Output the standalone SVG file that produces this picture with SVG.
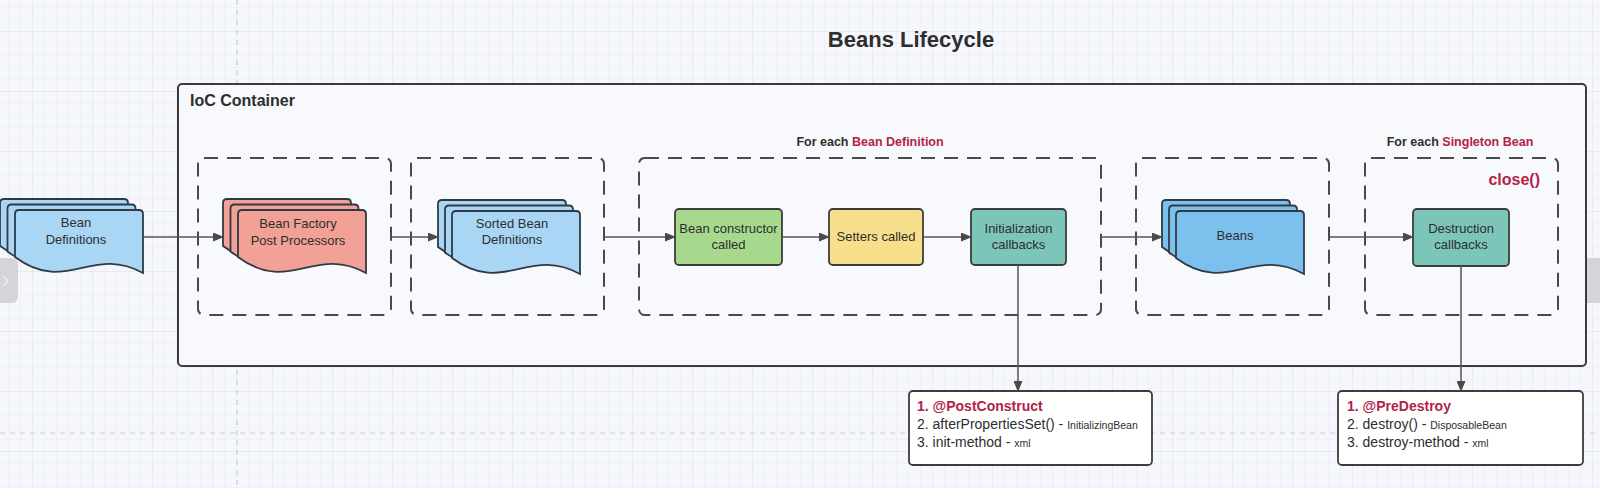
<svg xmlns="http://www.w3.org/2000/svg" width="1600" height="488" viewBox="0 0 1600 488">
  <defs>
    <pattern id="minor" width="12" height="12" patternUnits="userSpaceOnUse" x="9" y="8">
      <path d="M12 0V12M0 12H12" fill="none" stroke="#e9ebf4" stroke-width="1"/>
    </pattern>
    <pattern id="major" width="60" height="60" patternUnits="userSpaceOnUse" x="33" y="32">
      <path d="M60 0V60M0 60H60" fill="none" stroke="#dfe1ee" stroke-width="1"/>
    </pattern>
    <marker id="arrow" markerWidth="11" markerHeight="9" refX="10" refY="4.5" orient="auto" markerUnits="userSpaceOnUse">
      <path d="M0,0 L11,4.5 L0,9 z" fill="#4a4a4a"/>
    </marker>
    <style>
      .txt { font-family: "Liberation Sans", Arial, sans-serif; fill: #2e2e2e; }
      .node { font-size: 13px; text-anchor: middle; }
      .box { stroke: #3c3c3c; stroke-width: 1.8; }
      .doc { stroke: #2f3a45; stroke-width: 1.8; }
      .group { fill: none; stroke: #4a4a4a; stroke-width: 2; stroke-dasharray: 14 9; }
      .conn { fill: none; stroke: #555; stroke-width: 1.5; marker-end: url(#arrow); }
      .red { fill: #b22347; }
      .page { stroke: #c9cbd6; stroke-width: 1.2; stroke-dasharray: 5 5; fill: none; }
    </style>
  </defs>

  <!-- background canvas -->
  <rect width="1600" height="488" fill="#f6f7fc"/>
  <rect width="1600" height="488" fill="url(#minor)"/>
  <rect width="1600" height="488" fill="url(#major)"/>
  <path class="page" d="M237 0V488M0 433H1600"/>
  <rect x="-10" y="258" width="28" height="45" rx="6" fill="#d4d5da"/>
  <path d="M3 276 L8 281 L3 286" fill="none" stroke="#eeeeee" stroke-width="1.5"/>
  <rect x="1565" y="258" width="45" height="45" rx="6" fill="#d4d5da"/>
  <path d="M1578 276 L1573 281 L1578 286" fill="none" stroke="#eeeeee" stroke-width="1.5"/>

  <text class="txt" x="911" y="47" font-size="22" font-weight="bold" text-anchor="middle">Beans Lifecycle</text>

  <!-- IoC container -->
  <g id="ioc-container">
    <rect x="178" y="84" width="1408" height="282" rx="4" fill="#f8f9fc" stroke="#3c3c3c" stroke-width="2"/>
    <text class="txt" x="190" y="106" font-size="16" font-weight="bold">IoC Container</text>
  </g>

  <!-- dashed groups -->
  <g id="group-bfpp"><rect class="group" x="198" y="158" width="193" height="157" rx="6"/></g>
  <g id="group-sorted"><rect class="group" x="411" y="158" width="193" height="157" rx="6"/></g>
  <g id="group-each-bean-def">
    <rect class="group" x="639" y="158" width="462" height="157" rx="6"/>
    <text class="txt" x="870" y="146" font-size="12.5" font-weight="bold" text-anchor="middle">For each <tspan class="red">Bean Definition</tspan></text>
  </g>
  <g id="group-beans"><rect class="group" x="1136" y="158" width="193" height="157" rx="6"/></g>
  <g id="group-each-singleton">
    <rect class="group" x="1365" y="158" width="193" height="157" rx="6"/>
    <text class="txt" x="1460" y="146" font-size="12.5" font-weight="bold" text-anchor="middle">For each <tspan class="red">Singleton Bean</tspan></text>
    <text class="txt red" x="1540" y="185" font-size="16" font-weight="bold" text-anchor="end">close()</text>
  </g>

  <!-- document stacks -->
  <defs>
    <path id="docshape" d="M0 4 Q0 0 4 0 H124 Q128 0 128 4 V63 C76.8 34.6 51.2 85 0 47 Z"/>
  </defs>

  <g id="bean-definitions">
    <use href="#docshape" x="0" y="199" class="doc" fill="#a9d6f5"/>
    <use href="#docshape" x="7.5" y="204.5" class="doc" fill="#a9d6f5"/>
    <use href="#docshape" x="15" y="210" class="doc" fill="#a9d6f5"/>
    <text class="txt node" x="76" y="227">Bean</text>
    <text class="txt node" x="76" y="244">Definitions</text>
  </g>

  <g id="bean-factory-post-processors">
    <use href="#docshape" x="223" y="199" class="doc" fill="#f2a196"/>
    <use href="#docshape" x="230.5" y="204.5" class="doc" fill="#f2a196"/>
    <use href="#docshape" x="238" y="210" class="doc" fill="#f2a196"/>
    <text class="txt node" x="298" y="228">Bean Factory</text>
    <text class="txt node" x="298" y="245">Post Processors</text>
  </g>

  <g id="sorted-bean-definitions">
    <use href="#docshape" x="438" y="200" class="doc" fill="#a9d6f5"/>
    <use href="#docshape" x="445" y="205.5" class="doc" fill="#a9d6f5"/>
    <use href="#docshape" x="452" y="211" class="doc" fill="#a9d6f5"/>
    <text class="txt node" x="512" y="228">Sorted Bean</text>
    <text class="txt node" x="512" y="244">Definitions</text>
  </g>

  <g id="beans">
    <use href="#docshape" x="1162" y="200" class="doc" fill="#7cc0ee"/>
    <use href="#docshape" x="1169" y="205.5" class="doc" fill="#7cc0ee"/>
    <use href="#docshape" x="1176" y="211" class="doc" fill="#7cc0ee"/>
    <text class="txt node" x="1235" y="240">Beans</text>
  </g>

  <!-- process boxes -->
  <g id="bean-constructor">
    <rect class="box" x="675" y="209" width="107" height="56" rx="4" fill="#a6d98d"/>
    <text class="txt node" x="728.5" y="233">Bean constructor</text>
    <text class="txt node" x="728.5" y="249">called</text>
  </g>
  <g id="setters">
    <rect class="box" x="829" y="209" width="94" height="56" rx="4" fill="#f7df8c"/>
    <text class="txt node" x="876" y="241">Setters called</text>
  </g>
  <g id="init-callbacks">
    <rect class="box" x="971" y="209" width="95" height="56" rx="4" fill="#7cc6b9"/>
    <text class="txt node" x="1018.5" y="233">Initialization</text>
    <text class="txt node" x="1018.5" y="249">callbacks</text>
  </g>
  <g id="destruction-callbacks">
    <rect class="box" x="1413" y="209" width="96" height="57" rx="4" fill="#7cc6b9"/>
    <text class="txt node" x="1461" y="233">Destruction</text>
    <text class="txt node" x="1461" y="249">callbacks</text>
  </g>

  <!-- note boxes -->
  <g id="init-methods">
    <rect x="909" y="391" width="243" height="74" rx="4" fill="#ffffff" stroke="#3c3c3c" stroke-width="1.8"/>
    <text class="txt red" x="917" y="411" font-size="14" font-weight="bold">1. @PostConstruct</text>
    <text class="txt" x="917" y="429" font-size="14">2. afterPropertiesSet() - <tspan font-size="10.5">InitializingBean</tspan></text>
    <text class="txt" x="917" y="447" font-size="14">3. init-method - <tspan font-size="10.5">xml</tspan></text>
  </g>
  <g id="destroy-methods">
    <rect x="1338" y="391" width="245" height="74" rx="4" fill="#ffffff" stroke="#3c3c3c" stroke-width="1.8"/>
    <text class="txt red" x="1347" y="411" font-size="14" font-weight="bold">1. @PreDestroy</text>
    <text class="txt" x="1347" y="429" font-size="14">2. destroy() - <tspan font-size="10.5">DisposableBean</tspan></text>
    <text class="txt" x="1347" y="447" font-size="14">3. destroy-method - <tspan font-size="10.5">xml</tspan></text>
  </g>

  <!-- connectors -->
  <g id="connectors">
    <path class="conn" d="M143 237H223"/>
    <path class="conn" d="M391 237H438"/>
    <path class="conn" d="M604 237H675"/>
    <path class="conn" d="M782 237H829"/>
    <path class="conn" d="M923 237H971"/>
    <path class="conn" d="M1101 237H1162"/>
    <path class="conn" d="M1329 237H1413"/>
    <path class="conn" d="M1018 265V391"/>
    <path class="conn" d="M1461 266V391"/>
  </g>
</svg>
